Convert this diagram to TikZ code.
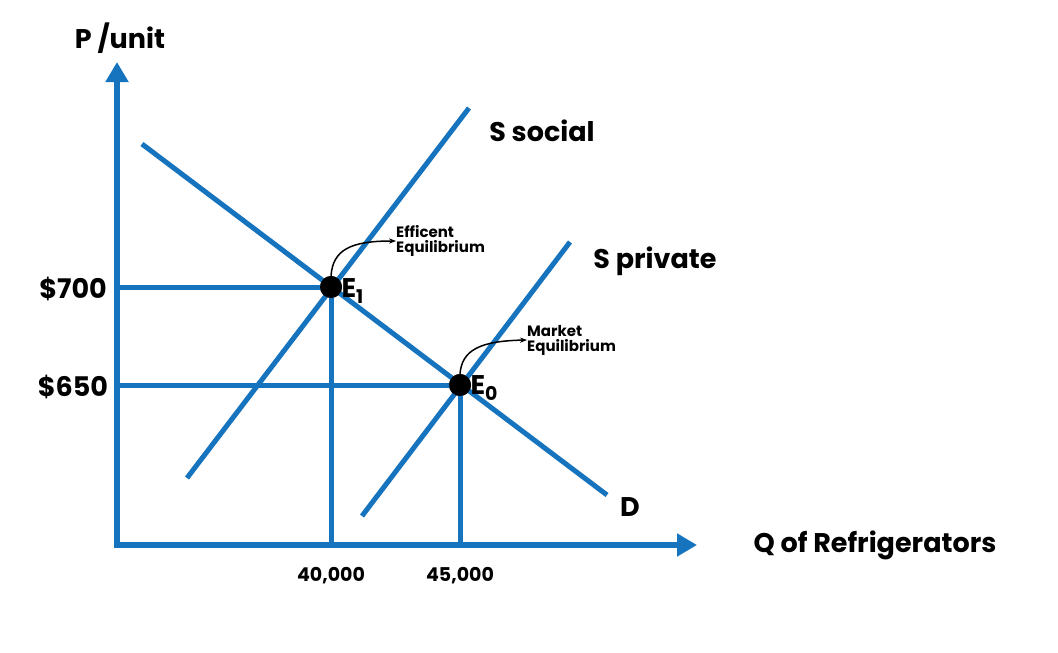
\documentclass[tikz,border=0pt]{standalone}
\usepackage{fontspec}
\setmainfont{Poppins}
\usetikzlibrary{arrows.meta}
\definecolor{ax}{RGB}{22,115,190}
\begin{document}
\begin{tikzpicture}[x=1pt,y=-1pt,
  ln/.style={draw=ax,line width=5pt},
  axis/.style={draw=ax,line width=5.5pt,-{Triangle[length=20pt,width=22pt]}},
  big/.style={font=\bfseries\fontsize{27}{30}\selectfont},
  mid/.style={font=\bfseries\fontsize{19}{21}\selectfont},
  sml/.style={font=\bfseries\fontsize{15}{15}\selectfont,align=left,anchor=west,inner sep=0pt},
  dot/.style={circle,fill=black,minimum size=22pt,inner sep=0pt},
  note/.style={-{Stealth[length=7pt]},line width=1.5pt}]
\useasboundingbox (0,0) rectangle (1058,653);
\coordinate (o) at (117,545);
\coordinate (ytop) at (117,62);
\coordinate (xend) at (697,545);
\coordinate (ss1) at (187,478); \coordinate (ss2) at (469,108);
\coordinate (sp1) at (362,516); \coordinate (sp2) at (570,242);
\coordinate (d1) at (142,144); \coordinate (d2) at (607,495);
\coordinate (y700) at (117,287); \coordinate (y650) at (117,385);
\coordinate (x40) at (331,545); \coordinate (x45) at (460,545);
\node[dot] (E1) at (331,287) {};
\node[dot] (E0) at (460,385) {};
\draw[ln] (y700) -- (E1.center) -- (x40);
\draw[ln] (y650) -- (E0.center) -- (x45);
\draw[ln] (ss1) -- (ss2);
\draw[ln] (sp1) -- (sp2);
\draw[ln] (d1) -- (d2);
\draw[axis] (117,548) -- (ytop);
\draw[axis] (114,545) -- (xend);
\node[dot] at (E1) {};
\node[dot] at (E0) {};
\node[big] (pu) at (120,38) {P /unit};
\node[big] (ssl) at (542,131) {S social};
\node[big] (spl) at (655,261) {S private};
\node[big] (dl) at (630,507) {D};
\node[big] (ql) at (875,545) {Q of Refrigerators};
\node[big] (p700) at (73,289) {\$700};
\node[big] (p650) at (73,387) {\$650};
\node[mid] (q40) at (331,576) {40,000};
\node[mid] (q45) at (460,576) {45,000};
\node[big,anchor=west] (e1l) at (338,291) {E\textsubscript{1}};
\node[big,anchor=west] (e0l) at (467,388) {E\textsubscript{0}};
\node[sml] (n1) at (396,241) {Efficent\\Equilibrium};
\node[sml] (n0) at (527,340) {Market\\Equilibrium};
\draw[note] (E1.north) .. controls (333,250) and (350,241) .. (n1.west);
\draw[note] (E0.north) .. controls (462,350) and (480,341) .. (n0.west);
\end{tikzpicture}
\end{document}
